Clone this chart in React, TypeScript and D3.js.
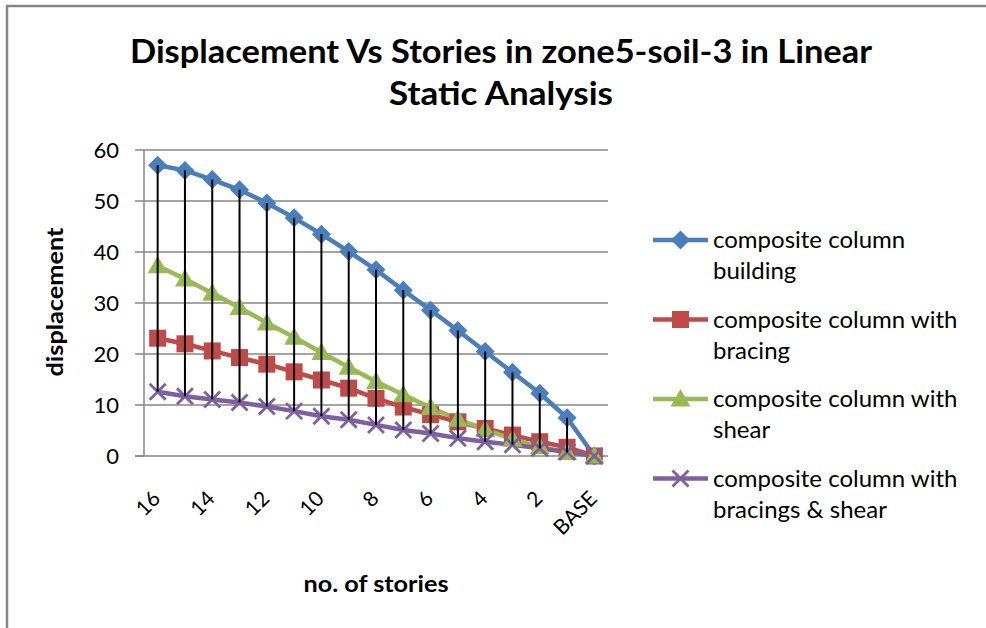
import React from "react";
import * as d3 from "d3";

const categories = ["16","15","14","13","12","11","10","9","8","7","6","5","4","3","2","1","BASE"];
const building = [57, 56, 54.2, 52.2, 49.6, 46.7, 43.5, 40.1, 36.5, 32.5, 28.6, 24.6, 20.5, 16.4, 12.3, 7.5, 0];
const bracing = [23.1, 22.0, 20.6, 19.3, 18.0, 16.5, 14.9, 13.3, 11.3, 9.6, 8.1, 6.7, 5.4, 4.1, 2.8, 1.7, 0];
const shear = [37.3, 34.7, 31.9, 29.1, 26.1, 23.3, 20.3, 17.4, 14.6, 12.0, 9.5, 7.2, 5.2, 3.3, 1.8, 0.7, 0];
const bracingShear = [12.6, 11.7, 11.1, 10.5, 9.7, 8.8, 7.8, 7.1, 6.1, 5.1, 4.4, 3.5, 2.8, 2.2, 1.5, 0.8, 0];
const yTicks = [0, 10, 20, 30, 40, 50, 60];
const seriesNames = [
  ["composite column", "building"],
  ["composite column with", "bracing"],
  ["composite column with", "shear"],
  ["composite column with", "bracings & shear"],
];
const titleLines = ["Displacement Vs Stories in zone5-soil-3 in Linear", "Static Analysis"];

const colors = ["#4A7EBB", "#BE4B48", "#98B954", "#7D60A0"];
const markers = ["diamond", "square", "triangle", "x"];
const FONT = "Lato, 'Open Sans', sans-serif";

function Marker({ type, x, y, color }: { type: string; x: number; y: number; color: string }) {
  if (type === "diamond") {
    const s = 9.5;
    return <path d={`M${x},${y - s}L${x + s},${y}L${x},${y + s}L${x - s},${y}Z`} fill={color} />;
  }
  if (type === "square") {
    const s = 8.5;
    return <rect x={x - s} y={y - s} width={2 * s} height={2 * s} fill={color} />;
  }
  if (type === "triangle") {
    const s = 10;
    return <path d={`M${x},${y - s}L${x + s},${y + s * 0.75}L${x - s},${y + s * 0.75}Z`} fill={color} />;
  }
  const s = 8;
  return (
    <path d={`M${x - s},${y - s}L${x + s},${y + s}M${x - s},${y + s}L${x + s},${y - s}`} stroke={color} strokeWidth={2.8} fill="none" />
  );
}

export default function App() {
  const W = 986, H = 628;
  const left = 144, right = 608, top = 150, bottom = 456;
  const x = d3.scaleBand().domain(categories).range([left, right]);
  const cx = (c: string) => (x(c) as number) + x.bandwidth() / 2;
  const y = d3.scaleLinear().domain([0, 60]).range([bottom, top]);
  const all = [building, bracing, shear, bracingShear];
  const line = d3.line<number>().x((_, i) => cx(categories[i])).y((v) => y(v));

  return (
    <svg width={W} height={H} style={{ position: "absolute", left: 0, top: 0, background: "#fff" }}>
      <rect x={0} y={0} width={W} height={H} fill="#fff" />
      <path d={`M7,${H}L7,6L${W},6`} fill="none" stroke="#868686" strokeWidth={2.5} />
      {titleLines.map((t, i) => (
        <text key={i} x={501} y={63 + i * 42} textAnchor="middle" fontFamily={FONT} fontWeight="bold" fontSize={33}
          textLength={i === 0 ? 742 : 224} lengthAdjust="spacingAndGlyphs" fill="#000">{t}</text>
      ))}
      {yTicks.map((t) => (
        <g key={t}>
          {t > 0 && <line x1={left} x2={right} y1={y(t)} y2={y(t)} stroke="#868686" strokeWidth={1.5} />}
          <line x1={left - 9} x2={left} y1={y(t)} y2={y(t)} stroke="#868686" strokeWidth={1.5} />
          <text x={119} y={y(t) + 8} textAnchor="end" fontFamily={FONT} fontSize={22} fill="#000">{t}</text>
        </g>
      ))}
      <line x1={left} x2={left} y1={top} y2={bottom} stroke="#868686" strokeWidth={1.5} />
      <line x1={left - 9} x2={right} y1={bottom} y2={bottom} stroke="#868686" strokeWidth={1.5} />
      {categories.map((c, i) => i % 2 === 0 ? (
        <text key={c} transform={`translate(${cx(c) + 4},${500}) rotate(-45)`} textAnchor="end" fontFamily={FONT} fontSize={21} fill="#000">{c}</text>
      ) : null)}
      <text transform="translate(63,302) rotate(-90)" textAnchor="middle" fontFamily={FONT} fontWeight="bold" fontSize={22} textLength={149} lengthAdjust="spacingAndGlyphs" fill="#000">displacement</text>
      <text x={376} y={592} textAnchor="middle" fontFamily={FONT} fontWeight="bold" fontSize={22} textLength={145} lengthAdjust="spacingAndGlyphs" fill="#000">no. of stories</text>
      {all.map((s, k) => (
        <path key={k} d={line(s) || ""} fill="none" stroke={colors[k]} strokeWidth={4.5} strokeLinejoin="round" />
      ))}
      {all.map((s, k) => (
        <g key={k}>{s.map((v, i) => <Marker key={i} type={markers[k]} x={cx(categories[i])} y={y(v)} color={colors[k]} />)}</g>
      ))}
      {categories.map((c, i) => {
        const vals = all.map((s) => s[i]);
        return <line key={c} x1={cx(c)} x2={cx(c)} y1={y(d3.max(vals) as number)} y2={y(d3.min(vals) as number)} stroke="#000" strokeWidth={2} />;
      })}
      {seriesNames.map((lines, k) => {
        const ly = 240 + k * 79.5;
        return (
          <g key={k}>
            <line x1={653} x2={708} y1={ly} y2={ly} stroke={colors[k]} strokeWidth={4.5} />
            <Marker type={markers[k]} x={680.5} y={ly} color={colors[k]} />
            {lines.map((t, j) => (
              <text key={j} x={713} y={ly + 8 + j * 31} fontFamily={FONT} fontSize={24} fill="#000">{t}</text>
            ))}
          </g>
        );
      })}
    </svg>
  );
}
